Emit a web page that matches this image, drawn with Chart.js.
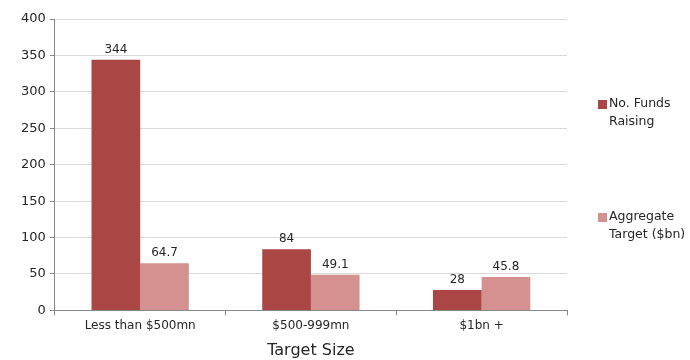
<!DOCTYPE html>
<html>
<head>
<meta charset="utf-8">
<script src="https://cdn.jsdelivr.net/npm/chart.js@4/dist/chart.umd.min.js"></script>
<style>
  html, body { margin: 0; padding: 0; background: #fff; }
  #wrap { width: 690px; height: 360px; }
</style>
</head>
<body>
<div id="wrap"><canvas id="chart"></canvas></div>
<script>
const categories = ["Less than $500mn", "$500-999mn", "$1bn +"];
const fundsRaising = [344, 84, 28];
const aggregateTarget = [64.7, 49.1, 45.8];
const seriesNames = [["No. Funds", "Raising"], ["Aggregate", "Target ($bn)"]];
const yTicks = [0, 50, 100, 150, 200, 250, 300, 350, 400];

const FONT = "'DejaVu Sans', sans-serif";
const TEXT = "#262626";

// numbers printed above each bar
const valueLabels = {
  id: "valueLabels",
  afterDatasetsDraw(chart) {
    const ctx = chart.ctx;
    ctx.save();
    ctx.font = "12px " + FONT;
    ctx.fillStyle = TEXT;
    ctx.textAlign = "center";
    ctx.textBaseline = "bottom";
    chart.data.datasets.forEach((ds, i) => {
      chart.getDatasetMeta(i).data.forEach((bar, j) => {
        ctx.fillText(String(ds.data[j]), bar.x, bar.y - 4);
      });
    });
    ctx.restore();
  }
};

// legend on the right, labels wrapped on two lines
const sideLegend = {
  id: "sideLegend",
  afterDraw(chart) {
    const ctx = chart.ctx;
    const rowsY = [104, 217];
    ctx.save();
    ctx.font = "12.5px " + FONT;
    ctx.textBaseline = "middle";
    chart.data.datasets.forEach((ds, i) => {
      const y = rowsY[i];
      ctx.fillStyle = ds.backgroundColor;
      ctx.fillRect(598, y - 4, 9, 9);
      ctx.fillStyle = TEXT;
      ds.label.forEach((line, k) => ctx.fillText(line, 609, y + k * 18));
    });
    ctx.restore();
  }
};

new Chart(document.getElementById("chart"), {
  type: "bar",
  data: {
    labels: categories,
    datasets: [
      { label: seriesNames[0], data: fundsRaising, backgroundColor: "#AA4643" },
      { label: seriesNames[1], data: aggregateTarget, backgroundColor: "#D4918F" }
    ]
  },
  options: {
    responsive: true,
    maintainAspectRatio: false,
    animation: false,
    layout: { padding: { top: 19, right: 123, left: 17, bottom: 0 } },
    datasets: { bar: { categoryPercentage: 0.57, barPercentage: 1 } },
    plugins: { legend: { display: false }, tooltip: { enabled: false } },
    scales: {
      x: {
        grid: { drawOnChartArea: false, drawTicks: true, tickLength: 5, color: "#888" },
        border: { color: "#888" },
        ticks: { color: TEXT, font: { family: FONT, size: 12 }, padding: 3 },
        title: { display: true, text: "Target Size", color: TEXT, font: { family: FONT, size: 16 }, padding: { top: 5, bottom: 0 } }
      },
      y: {
        min: 0,
        max: 400,
        afterBuildTicks(axis) { axis.ticks = yTicks.map(v => ({ value: v })); },
        grid: { color: "#D9D9D9", tickLength: 5, tickColor: "#888" },
        border: { color: "#888" },
        ticks: { color: TEXT, font: { family: FONT, size: 13 }, padding: 4 }
      }
    }
  },
  plugins: [valueLabels, sideLegend]
});
</script>
</body>
</html>
